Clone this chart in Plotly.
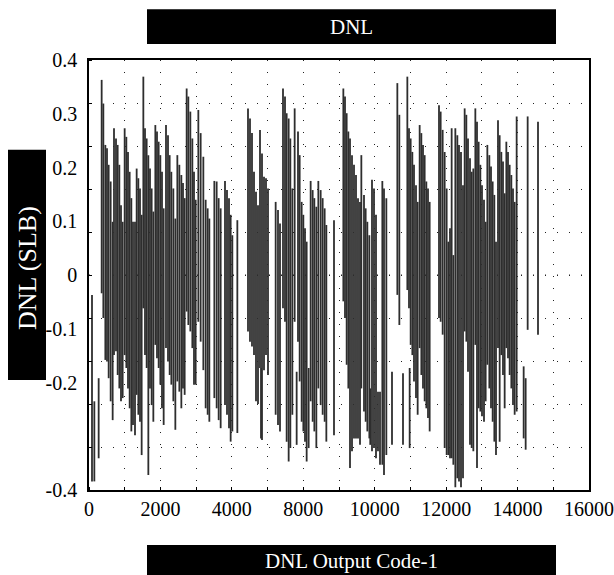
import numpy as np
import plotly.graph_objects as go

# ---------------- data ----------------
output_code = [
    96, 171, 309, 405, 459, 523, 576, 629, 693, 757,
    800, 864, 917, 971, 1024, 1077, 1141, 1195, 1248, 1301,
    1355, 1408, 1472, 1525, 1579, 1632, 1685, 1739, 1792, 1845,
    1899, 1952, 2005, 2059, 2123, 2176, 2229, 2283, 2336, 2389,
    2464, 2528, 2581, 2635, 2699, 2763, 2827, 2891, 2955,
    3008, 3061, 3125, 3179, 3243, 3307, 3360, 3413, 3499, 3573,
    3659, 3733, 3797, 3851, 4011, 4085, 4149, 4213, 4352, 4416,
    4480, 4533, 4587, 4747, 5088, 5152, 5216, 5280, 5344, 5408,
    5472, 5504, 5536, 5600, 5664, 5728,
    5973, 6048, 6112, 6208, 6272, 6325, 6389, 6443, 6507, 6581,
    6645, 6688, 6741, 6805, 6859, 6912, 6965, 7029, 7093, 7157,
    7211, 7275, 7339, 7413, 7477, 7541, 7595, 7840, 8139, 8192,
    8245, 8299, 8352, 8416, 8480, 8544, 8608, 8672, 8715, 8800,
    8853, 8907, 8971,
    9000, 9056, 9120, 9184, 9248, 9312, 9387, 9440, 9515, 9696,
    9867, 9931, 10048, 10187, 10240, 10261, 10293, 10347, 10400, 10464,
    10517, 10581, 10635, 10688, 10741, 10795, 10848, 10901, 11200, 11253,
    11317, 11381, 11445, 11499, 11552, 11605, 11659, 11723, 11787, 11840,
    11904, 11968,
    12021, 12075, 12128, 12192, 12245, 12299, 12363, 12416, 12469, 12523,
    12576, 12640, 12693, 12747, 12811, 12864, 12917, 12971, 13024, 13088,
    13141, 13195, 13248, 13301, 13355, 13408, 13461, 13515, 13568, 13621,
    13685, 13909, 13973, 14037, 14368,
]

dnl_high = [
    -0.037, -0.235, -0.192, 0.363, 0.319, 0.242, 0.236, 0.205, 0.174, 0.099,
    0.273, 0.254, 0.242, 0.205, 0.130, 0.099, 0.273, 0.257, 0.229, 0.192,
    0.143, 0.099, 0.099, 0.198, 0.180, 0.161, 0.112, 0.369, 0.273, 0.254,
    0.223, 0.198, 0.161, 0.118, 0.279, 0.267, 0.248, 0.223, 0.192, 0.124,
    0.279, 0.260, 0.223, 0.192, 0.161, 0.105, 0.223, 0.205, 0.186,
    0.171, 0.143, 0.347, 0.332, 0.304, 0.254, 0.192, 0.140, 0.307, 0.264,
    0.220, 0.140, 0.124, 0.105, 0.175, 0.174, 0.143, 0.124, 0.175, 0.158,
    0.143, 0.112, 0.074, 0.102, 0.310, 0.291, 0.264, 0.192, 0.155, 0.130,
    0.270, -0.173, 0.226, 0.183, 0.180, 0.161,
    0.136, 0.121, 0.096, 0.347, 0.332, 0.301, 0.291, 0.254, 0.161, 0.310,
    -0.180, 0.267, 0.223, 0.136, 0.112, 0.087, 0.062, -0.173, 0.175, 0.158,
    0.143, 0.127, 0.175, 0.158, 0.143, 0.124, 0.093, 0.102, 0.347, 0.332,
    0.301, 0.267, 0.254, 0.223, 0.205, 0.186, 0.143, 0.136, 0.223, 0.149,
    0.124, 0.099, 0.074,
    -0.211, 0.177, 0.161, 0.112, -0.217, -0.217, 0.175, 0.161, 0.143, -0.180,
    0.357, 0.298, -0.183, 0.369, 0.273, -0.173, 0.254, 0.229, 0.205, 0.167,
    0.136, 0.279, 0.264, 0.242, 0.223, 0.174, 0.161, 0.136, 0.316, 0.304,
    0.270, 0.229, 0.161, 0.062, 0.087, 0.273, 0.037, 0.273, 0.260, 0.242,
    0.229, 0.167,
    0.310, 0.298, 0.254, 0.217, 0.192, 0.198, 0.310, 0.285, 0.248, 0.205,
    0.167, 0.140, 0.099, 0.242, 0.223, 0.202, 0.174, 0.149, 0.062, 0.288,
    0.260, 0.229, 0.211, 0.152, 0.248, 0.229, 0.205, 0.186, 0.161, 0.136,
    0.295, -0.170, -0.192, 0.295, 0.285,
]

dnl_low = [
    -0.384, -0.384, -0.341, -0.034, -0.080, -0.158, -0.161, -0.192, -0.235, -0.270,
    -0.149, -0.142, -0.186, -0.211, -0.235, -0.229, -0.149, -0.173, -0.211, -0.248,
    -0.291, -0.279, -0.298, -0.223, -0.260, -0.273, -0.335, -0.062, -0.149, -0.173,
    -0.372, -0.211, -0.242, -0.273, -0.130, -0.155, -0.173, -0.204, -0.248, -0.279,
    -0.136, -0.161, -0.186, -0.204, -0.235, -0.288, -0.198, -0.217, -0.248,
    -0.211, -0.223, -0.068, -0.093, -0.105, -0.136, -0.204, -0.204, -0.087, -0.124,
    -0.177, -0.248, -0.260, -0.273, -0.229, -0.248, -0.270, -0.285, -0.242, -0.260,
    -0.285, -0.310, -0.291, -0.294, -0.105, -0.124, -0.133, -0.149, -0.235, -0.240,
    -0.173, -0.304, -0.307, -0.177, -0.149, -0.186,
    -0.260, -0.279, -0.291, -0.062, -0.087, -0.310, -0.347, -0.322, -0.260, -0.087,
    -0.316, -0.124, -0.198, -0.273, -0.291, -0.310, -0.347, -0.322, -0.235, -0.273,
    -0.291, -0.322, -0.211, -0.242, -0.260, -0.273, -0.310, -0.298, -0.049, -0.080,
    -0.167, -0.211, -0.359, -0.328, -0.304, -0.304, -0.304, -0.316, -0.211, -0.254,
    -0.273, -0.291, -0.304,
    -0.316, -0.328, -0.322, -0.341, -0.328, -0.353, -0.353, -0.372, -0.335, -0.316,
    -0.037, -0.093, -0.316, -0.028, -0.062, -0.322, -0.130, -0.149, -0.198, -0.229,
    -0.260, -0.136, -0.186, -0.211, -0.235, -0.248, -0.266, -0.291, -0.080, -0.087,
    -0.111, -0.322, -0.335, -0.335, -0.341, -0.341, -0.353, -0.395, -0.378, -0.384,
    -0.395, -0.378,
    -0.105, -0.124, -0.180, -0.316, -0.322, -0.328, -0.130, -0.359, -0.248, -0.254,
    -0.263, -0.273, -0.235, -0.167, -0.211, -0.248, -0.273, -0.310, -0.335, -0.136,
    -0.310, -0.149, -0.186, -0.248, -0.136, -0.155, -0.186, -0.211, -0.242, -0.260,
    -0.254, -0.304, -0.325, -0.102, -0.111,
]

x_tick_labels = ["0", "2000", "4000", "8000", "10000", "12000", "14000", "16000"]
y_tick_values = [0.4, 0.3, 0.2, 0.1, 0, -0.1, -0.2, -0.4]
y_tick_labels = ["0.4", "0.3", "0.2", "0.1", "0", "-0.1", "-0.2", "-0.4"]

# ---------------- build segments ----------------
seg_x, seg_y = [], []
for c, hi, lo in zip(output_code, dnl_high, dnl_low):
    seg_x += [c, c, None]
    seg_y += [hi, lo, None]

SERIF = "Liberation Serif, Times New Roman, serif"
X_MAX = 16000
grid_style = dict(showgrid=True, gridcolor="#222222", gridwidth=1, griddash="1px,11px")

fig = go.Figure()
fig.add_trace(go.Scatter(
    x=seg_x, y=seg_y, mode="lines",
    line=dict(color="#2e2e2e", width=1.8),
    hoverinfo="skip", showlegend=False,
))

fig.update_layout(
    width=614, height=575,
    margin=dict(l=89, r=25, t=60, b=85),
    paper_bgcolor="white", plot_bgcolor="white",
    font=dict(family=SERIF, color="black", size=20),
    showlegend=False,
)

fig.update_xaxes(
    range=[0, X_MAX], autorange=False,
    tickvals=list(np.linspace(0, X_MAX, len(x_tick_labels))),
    ticktext=x_tick_labels,
    ticks="", zeroline=False,
    showline=True, linecolor="black", linewidth=1.5, mirror=True,
    tickfont=dict(family=SERIF, size=20, color="black"),
    automargin=False,
    **grid_style,
    minor=dict(dtick=X_MAX / 14, tick0=0, ticks="inside", ticklen=3,
               tickcolor="black", **grid_style),
)

fig.update_yaxes(
    range=[-0.4, 0.4], autorange=False,
    tickvals=y_tick_values, ticktext=y_tick_labels,
    ticks="", zeroline=False, showgrid=False,
    showline=True, linecolor="black", linewidth=1.5, mirror=True,
    tickfont=dict(family=SERIF, size=20, color="black"),
    ticklabelstandoff=6,
    automargin=False,
    minor=dict(dtick=0.08, tick0=-0.4, ticks="inside", ticklen=3,
               tickcolor="black", **grid_style),
)

# dotted grid line at y=0 (coincides with a major tick, so drawn separately)
fig.add_shape(type="line", xref="paper", yref="y", x0=0, x1=1, y0=0, y1=0,
              line=dict(color="#222222", width=1, dash="1px,11px"), layer="below")

# black title boxes
boxes = [
    dict(x0=0.116, x1=0.934, y0=1.037, y1=1.118),     # top title
    dict(x0=0.116, x1=0.934, y0=-0.22, y1=-0.128),    # x title
    dict(x0=-0.162, x1=-0.086, y0=0.256, y1=0.791),   # y title
]
for b in boxes:
    fig.add_shape(type="rect", xref="paper", yref="paper", fillcolor="black",
                  line=dict(width=0), **b)

fig.add_annotation(text="DNL", xref="paper", yref="paper", x=0.525, y=1.0775,
                   xanchor="center", yanchor="middle",
                   showarrow=False, font=dict(family=SERIF, size=21, color="white"))
fig.add_annotation(text="DNL Output Code-1", xref="paper", yref="paper", x=0.525, y=-0.164,
                   xanchor="center", yanchor="middle",
                   showarrow=False, font=dict(family=SERIF, size=21, color="white"))
fig.add_annotation(text="DNL (SLB)", xref="paper", yref="paper", x=-0.124, y=0.516,
                   xanchor="center", yanchor="middle",
                   textangle=-90, showarrow=False,
                   font=dict(family=SERIF, size=26, color="white"))

# remove the default page margin so the 614x575 figure fills the window exactly
fig.write_html(
    "out.html",
    config={"displayModeBar": False},
    post_script="document.body.style.margin='0';document.body.style.overflow='hidden';",
)
